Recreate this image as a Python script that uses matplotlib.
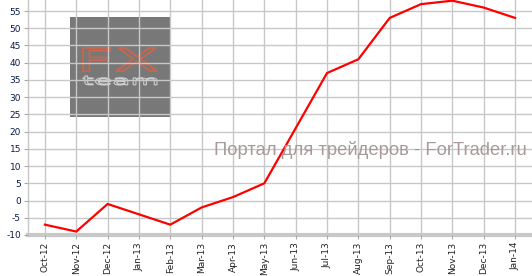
import matplotlib
matplotlib.use("Agg")
import matplotlib.pyplot as plt
from matplotlib.patches import Rectangle, PathPatch
from matplotlib.textpath import TextPath
from matplotlib.font_manager import FontProperties
from matplotlib.transforms import Affine2D, IdentityTransform

months = ["Oct-12", "Nov-12", "Dec-12", "Jan-13", "Feb-13", "Mar-13", "Apr-13", "May-13",
          "Jun-13", "Jul-13", "Aug-13", "Sep-13", "Oct-13", "Nov-13", "Dec-13", "Jan-14"]
values = [-7, -9, -1, -4, -7, -2, 1, 5, 21, 37, 41, 53, 57, 58, 56, 53]
yticks = list(range(-10, 60, 5))

W, H = 532, 276
fig = plt.figure(figsize=(W / 100, H / 100), dpi=100)
ax = fig.add_axes([28 / W, 41 / H, 1 - 28 / W, 235 / H])

x = list(range(len(months)))
ax.set_xlim(-0.54, len(months) - 1 + 0.54)
ax.set_ylim(-10, 58.2)
ax.set_autoscale_on(False)


def ax_frac(px, py):
    return (px - 28) / 504, (H - py - 41) / 235


# watermark box
bx, by = ax_frac(70, 117)
ax.add_patch(Rectangle((bx, by), 100 / 504, 100 / 235, transform=ax.transAxes,
                       facecolor="#787878", edgecolor="none", zorder=0))


def fitted_text(s, x0, y0, x1, y1, color, lw, family="DejaVu Sans", weight="normal"):
    # x0,y0 top-left ; x1,y1 bottom-right in image pixels
    tp = TextPath((0, 0), s, size=50, prop=FontProperties(family=family, weight=weight))
    ext = tp.get_extents()
    sx = (x1 - x0) / ext.width
    sy = (y1 - y0) / ext.height
    tr = Affine2D().translate(-ext.x0, -ext.y0).scale(sx, sy).translate(x0, H - y1)
    path = tr.transform_path(tp)
    p = PathPatch(path, facecolor="none", edgecolor=color, linewidth=lw,
                  transform=IdentityTransform(), zorder=0.5)
    ax.add_artist(p)


fitted_text("FX", 83, 48, 157, 71, "#c9674f", 1.3)
fitted_text("team", 83, 76, 157, 85, "#cfcfcf", 0.8)

ax.grid(True, color="#c8c8c8", linewidth=1.0, zorder=1)
ax.set_axisbelow(False)
ax.plot(x, values, color="#ff0000", linewidth=1.6, zorder=3)

tx, ty = ax_frac(370, 150)
ax.text(tx, ty, "Портал для трейдеров - ForTrader.ru", transform=ax.transAxes,
        ha="center", va="center", fontsize=13.2, color="#a89a9a", zorder=4,
        family="Liberation Sans")

ax.set_xticks(x)
ax.set_xticklabels(months, rotation=90, fontsize=6.5, color="#222222")
ax.set_yticks(yticks)
ax.set_yticklabels([str(v) for v in yticks], fontsize=6.5, color="#0a1a4a")

for s in ["top", "right"]:
    ax.spines[s].set_visible(False)
ax.spines["left"].set_color("#c8c8c8")
ax.spines["left"].set_linewidth(1.0)
ax.spines["bottom"].set_color("#c8c8c8")
ax.spines["bottom"].set_linewidth(3)
ax.tick_params(axis="y", length=3, color="#aaaaaa", pad=2)
ax.tick_params(axis="x", length=3, color="#aaaaaa", pad=2)

fig.savefig("out.png", dpi=100)
